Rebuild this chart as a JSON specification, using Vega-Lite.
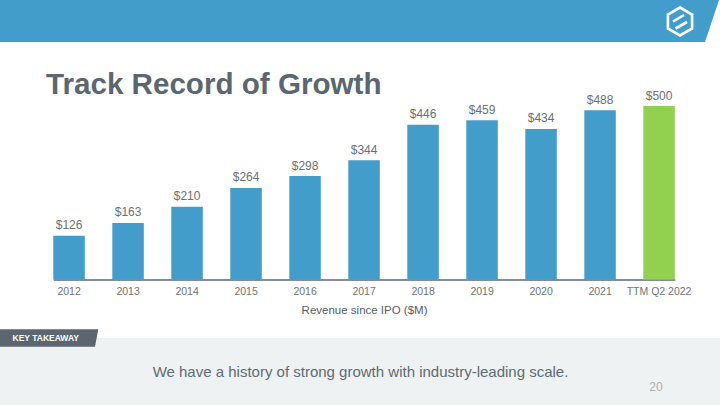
{
  "$schema": "https://vega.github.io/schema/vega-lite/v6.json",
  "width": 720,
  "height": 405,
  "autosize": "none",
  "padding": 0,
  "background": "#ffffff",
  "config": {"view": {"stroke": null}, "font": "Liberation Sans"},
  "datasets": {
    "revenue": [
      {"period": "2012", "revenue": 126, "kind": "Annual"},
      {"period": "2013", "revenue": 163, "kind": "Annual"},
      {"period": "2014", "revenue": 210, "kind": "Annual"},
      {"period": "2015", "revenue": 264, "kind": "Annual"},
      {"period": "2016", "revenue": 298, "kind": "Annual"},
      {"period": "2017", "revenue": 344, "kind": "Annual"},
      {"period": "2018", "revenue": 446, "kind": "Annual"},
      {"period": "2019", "revenue": 459, "kind": "Annual"},
      {"period": "2020", "revenue": 434, "kind": "Annual"},
      {"period": "2021", "revenue": 488, "kind": "Annual"},
      {"period": "TTM Q2 2022", "revenue": 500, "kind": "TTM"}
    ],
    "one": [{}]
  },
  "layer": [
    {
      "data": {"name": "one"},
      "mark": {"type": "point", "shape": "M0,0 L719,0 L705,42 L0,42 Z", "size": 4, "filled": true, "fill": "#439DCB", "strokeWidth": 0, "opacity": 1},
      "encoding": {"x": {"value": 0}, "y": {"value": 0}}
    },
    {
      "data": {"name": "one"},
      "mark": {"type": "point", "shape": "M0,-14 L12.1,-7 L12.1,7 L0,14 L-12.1,7 L-12.1,-7 Z M-7,0 L4,-6.5 M-4.5,7 L7,0.5", "size": 4, "filled": false, "stroke": "#ffffff", "strokeWidth": 2.6, "opacity": 1},
      "encoding": {"x": {"value": 680}, "y": {"value": 21.5}}
    },
    {
      "data": {"name": "one"},
      "mark": {"type": "rect", "color": "#EEF2F3"},
      "encoding": {"x": {"value": 0}, "x2": {"value": 720}, "y": {"value": 338}, "y2": {"value": 405}}
    },
    {
      "data": {"name": "one"},
      "mark": {"type": "point", "shape": "M0,0 L98.3,0 L95,17.4 L0,17.4 Z", "size": 4, "filled": true, "fill": "#5B6670", "strokeWidth": 0, "opacity": 1},
      "encoding": {"x": {"value": 0}, "y": {"value": 329.3}}
    },
    {
      "data": {"name": "one"},
      "mark": {"type": "text", "text": "KEY TAKEAWAY", "font": "Liberation Sans", "fontSize": 8.5, "fontWeight": "bold", "color": "#ffffff", "align": "left", "baseline": "middle"},
      "encoding": {"x": {"value": 12.5}, "y": {"value": 338}}
    },
    {
      "data": {"name": "one"},
      "mark": {"type": "text", "text": "Track Record of Growth", "font": "Liberation Sans", "fontSize": 29.6, "fontWeight": "bold", "color": "#5B6670", "align": "left", "baseline": "alphabetic"},
      "encoding": {"x": {"value": 46}, "y": {"value": 94.3}}
    },
    {
      "data": {"name": "one"},
      "mark": {"type": "text", "text": "We have a history of strong growth with industry-leading scale.", "font": "Liberation Sans", "fontSize": 15, "color": "#5F6B74", "align": "center", "baseline": "middle"},
      "encoding": {"x": {"value": 360.5}, "y": {"value": 372}}
    },
    {
      "data": {"name": "one"},
      "mark": {"type": "text", "text": "20", "font": "Liberation Sans", "fontSize": 12, "color": "#A9B0B5", "align": "center", "baseline": "middle"},
      "encoding": {"x": {"value": 656}, "y": {"value": 386.7}}
    },
    {
      "data": {"name": "revenue"},
      "mark": {"type": "bar"},
      "encoding": {
        "x": {
          "field": "period", "type": "nominal", "sort": null,
          "scale": {"range": [53.3, 674.8], "paddingInner": 0.466, "paddingOuter": 0},
          "axis": {
            "orient": "bottom", "offset": -125.5, "labelAngle": 0,
            "domainColor": "#5B6670", "domainWidth": 1.5, "ticks": false, "tickSize": 0,
            "labelPadding": 7, "labelFontSize": 10.5, "labelColor": "#6F7478", "labelFont": "Liberation Sans",
            "title": "Revenue since IPO ($M)", "titleFontSize": 11.5, "titleFontWeight": "normal", "titleColor": "#55606A",
            "titleFont": "Liberation Sans", "titlePadding": 7
          }
        },
        "y": {
          "field": "revenue", "type": "quantitative",
          "scale": {"domain": [0, 500], "range": [279.5, 106], "nice": false},
          "axis": null
        },
        "color": {
          "field": "kind", "type": "nominal",
          "scale": {"domain": ["Annual", "TTM"], "range": ["#439DCB", "#92D050"]},
          "legend": null
        }
      }
    },
    {
      "data": {"name": "revenue"},
      "mark": {"type": "text", "baseline": "middle", "dy": -10.5, "fontSize": 12, "color": "#6B7177", "font": "Liberation Sans"},
      "encoding": {
        "x": {"field": "period", "type": "nominal", "sort": null},
        "y": {"field": "revenue", "type": "quantitative"},
        "text": {"field": "revenue", "type": "quantitative", "format": "$.0f"}
      }
    }
  ]
}
